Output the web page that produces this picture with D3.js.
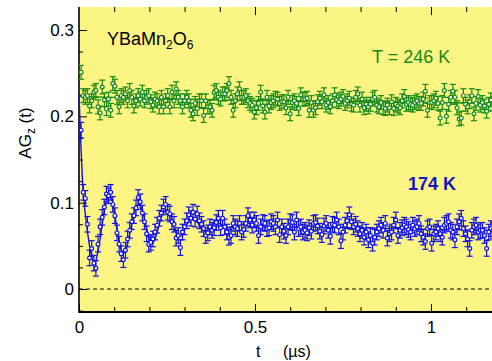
<!DOCTYPE html>
<html>
<head>
<meta charset="utf-8">
<script src="https://cdn.jsdelivr.net/npm/d3@7"></script>
<style>
  body { margin: 0; background: #fff; }
  text { font-family: "Liberation Sans", Arial, sans-serif; }
</style>
</head>
<body>
<svg id="chart" width="492" height="361"></svg>
<script>
// sampling step of the spectra (µs); point i sits at (i+1)*dt
const dt = 0.006;

// T = 246 K
const green246 = [
  0.251,0.224,0.222,0.224,0.212,0.218,0.228,0.230,0.211,0.204,
  0.234,0.219,0.209,0.220,0.207,0.238,0.235,0.222,0.211,0.224,
  0.222,0.226,0.218,0.230,0.222,0.212,0.218,0.224,0.220,0.228,
  0.218,0.222,0.224,0.217,0.213,0.220,0.218,0.211,0.222,0.211,
  0.218,0.224,0.211,0.228,0.218,0.232,0.222,0.218,0.211,0.218,
  0.222,0.218,0.207,0.203,0.215,0.209,0.218,0.218,0.201,0.218,
  0.211,0.211,0.207,0.228,0.230,0.222,0.220,0.226,0.226,0.230,
  0.238,0.222,0.207,0.218,0.226,0.232,0.222,0.222,0.224,0.218,
  0.215,0.213,0.205,0.210,0.215,0.228,0.212,0.205,0.222,0.212,
  0.216,0.218,0.221,0.220,0.215,0.217,0.217,0.210,0.222,0.203,
  0.216,0.218,0.215,0.209,0.225,0.220,0.220,0.221,0.207,0.216,
  0.207,0.210,0.217,0.221,0.217,0.225,0.213,0.216,0.211,0.218,
  0.225,0.219,0.217,0.220,0.223,0.215,0.218,0.221,0.214,0.213,
  0.222,0.226,0.213,0.220,0.210,0.214,0.211,0.214,0.220,0.222,
  0.213,0.211,0.216,0.210,0.209,0.213,0.210,0.217,0.209,0.214,
  0.212,0.210,0.218,0.223,0.214,0.216,0.214,0.213,0.216,0.218,
  0.215,0.215,0.220,0.229,0.207,0.216,0.216,0.218,0.221,0.215,
  0.198,0.216,0.230,0.200,0.214,0.222,0.229,0.222,0.210,0.197,
  0.198,0.224,0.214,0.211,0.217,0.224,0.203,0.215,0.223,0.213,
  0.216,0.212,0.206,0.214,0.219,0.215
];

// T = 174 K
const blue174 = [
  0.184,0.112,0.105,0.075,0.036,0.047,0.030,0.024,0.052,0.072,
  0.083,0.095,0.110,0.108,0.112,0.098,0.085,0.065,0.052,0.041,
  0.034,0.045,0.058,0.068,0.078,0.085,0.094,0.106,0.101,0.088,
  0.078,0.064,0.052,0.054,0.058,0.066,0.074,0.082,0.088,0.095,
  0.098,0.089,0.087,0.078,0.075,0.059,0.062,0.048,0.066,0.072,
  0.079,0.086,0.082,0.089,0.081,0.087,0.079,0.075,0.070,0.062,
  0.065,0.072,0.068,0.071,0.077,0.082,0.071,0.082,0.072,0.066,
  0.060,0.062,0.076,0.072,0.070,0.076,0.066,0.069,0.076,0.085,
  0.080,0.074,0.080,0.076,0.062,0.072,0.077,0.076,0.070,0.071,
  0.078,0.076,0.072,0.080,0.063,0.072,0.067,0.062,0.072,0.078,
  0.077,0.066,0.080,0.070,0.072,0.066,0.068,0.065,0.071,0.067,
  0.076,0.077,0.073,0.067,0.063,0.073,0.076,0.068,0.061,0.075,
  0.074,0.080,0.072,0.056,0.066,0.074,0.079,0.086,0.078,0.072,
  0.075,0.070,0.064,0.068,0.060,0.066,0.057,0.062,0.053,0.060,
  0.066,0.070,0.074,0.068,0.076,0.059,0.064,0.066,0.074,0.080,
  0.062,0.068,0.071,0.074,0.072,0.069,0.066,0.074,0.070,0.072,
  0.076,0.064,0.060,0.055,0.070,0.072,0.053,0.064,0.066,0.070,
  0.064,0.060,0.074,0.076,0.078,0.068,0.066,0.057,0.072,0.078,
  0.082,0.070,0.064,0.058,0.047,0.068,0.072,0.074,0.066,0.068,
  0.068,0.062,0.047,0.066,0.070,0.068
];

const errGreen = 0.008;
const errBlue = 0.009;

// fitted curves
const greenFitT = [0, 0.2, 0.4, 0.6, 0.8, 1.0, 1.2];
const greenFitV = [0.223, 0.221, 0.219, 0.218, 0.217, 0.216, 0.215];

const blueFitT = [0,0.005,0.01,0.015,0.02,0.03,0.04,0.045,0.05,
  0.06,0.07,0.08,0.09,0.10,0.11,0.12,0.13,0.14,0.15,0.16,0.17,0.18,0.19,0.20,
  0.21,0.22,0.23,0.24,0.25,0.26,0.27,0.28,0.29,0.30,0.31,0.32,0.33,0.34,0.35,
  0.36,0.37,0.38,0.39,0.40,0.42,0.44,0.46,0.48,0.50,0.60,0.80,1.00,1.20];
const blueFitV = [0.225,0.17,0.125,0.098,0.08,0.05,0.032,0.029,0.036,
  0.058,0.086,0.104,0.107,0.09,0.064,0.045,0.042,0.057,0.076,0.091,0.098,0.091,0.074,0.058,
  0.054,0.063,0.078,0.089,0.092,0.085,0.073,0.064,0.062,0.069,0.078,0.083,0.081,0.075,0.069,
  0.067,0.070,0.075,0.077,0.076,0.071,0.073,0.075,0.073,0.072,0.072,0.071,0.069,0.068];

const xTicks = [0, 0.5, 1];
const xMinor = [0.1, 0.2, 0.3, 0.4, 0.6, 0.7, 0.8, 0.9, 1.1];
const yTicks = [0, 0.1, 0.2, 0.3];
const yMinor = [-0.025, 0.025, 0.05, 0.075, 0.125, 0.15, 0.175, 0.225, 0.25, 0.275];

const green = "#178a17", blue = "#1010e6";

const svg = d3.select("#chart");
const pLeft = 79, pRight = 492, pTop = 7, pBottom = 312;

const x = d3.scaleLinear().domain([0, 1.2]).range([pLeft, pLeft + 1.2 * 352]);
const y = d3.scaleLinear().domain([-0.0266, 0.3255]).range([pBottom, pTop + 1]);

svg.append("rect")
  .attr("x", pLeft).attr("y", pTop)
  .attr("width", pRight - pLeft).attr("height", pBottom - pTop)
  .attr("fill", "#fcf583");

// zero line
svg.append("line")
  .attr("x1", pLeft).attr("x2", pRight)
  .attr("y1", y(0)).attr("y2", y(0))
  .attr("stroke", "#000").attr("stroke-width", 1)
  .attr("stroke-dasharray", "4,3");

// axes (ticks inside)
function styleAxis(g) {
  g.select(".domain").remove();
  g.selectAll(".tick line").attr("stroke", "#000");
  g.selectAll("text").attr("fill", "#000")
    .style("font-family", "'Liberation Sans', Arial, sans-serif");
}

svg.append("g").attr("transform", `translate(0,${pBottom})`)
  .call(d3.axisBottom(x).tickValues(xTicks).tickSize(-8).tickPadding(9)
    .tickFormat(d3.format("")))
  .call(styleAxis)
  .selectAll("text").attr("font-size", 17);
svg.append("g").attr("transform", `translate(0,${pBottom})`)
  .call(d3.axisBottom(x).tickValues(xMinor).tickSize(-5).tickFormat(""))
  .call(styleAxis);
svg.append("g").attr("transform", `translate(0,${pTop})`)
  .call(d3.axisTop(x).tickValues(xTicks.filter(d => d > 0)).tickSize(-8).tickFormat(""))
  .call(styleAxis);
svg.append("g").attr("transform", `translate(0,${pTop})`)
  .call(d3.axisTop(x).tickValues(xMinor).tickSize(-5).tickFormat(""))
  .call(styleAxis);

svg.append("g").attr("transform", `translate(${pLeft},0)`)
  .call(d3.axisLeft(y).tickValues(yTicks).tickSize(-8).tickPadding(5)
    .tickFormat(d3.format("")))
  .call(styleAxis)
  .selectAll("text").attr("font-size", 17);
svg.append("g").attr("transform", `translate(${pLeft},0)`)
  .call(d3.axisLeft(y).tickValues(yMinor).tickSize(-4).tickFormat(""))
  .call(styleAxis);

// frame lines
svg.append("line").attr("x1", pLeft).attr("x2", pRight)
  .attr("y1", pBottom).attr("y2", pBottom)
  .attr("stroke", "#000").attr("stroke-width", 2);
svg.append("line").attr("x1", pLeft).attr("x2", pLeft)
  .attr("y1", pTop).attr("y2", pBottom + 1)
  .attr("stroke", "#000").attr("stroke-width", 1.6);

// series
function drawSeries(values, err, fitT, fitV, color) {
  const pts = values.map((v, i) => ({ t: (i + 1) * dt, v: v }));
  const g = svg.append("g");

  g.append("path")
    .datum(fitT.map((t, i) => ({ t: t, v: fitV[i] })))
    .attr("fill", "none").attr("stroke", color).attr("stroke-width", 1.4)
    .attr("d", d3.line().x(d => x(d.t)).y(d => y(d.v)).curve(d3.curveMonotoneX));

  const bars = g.selectAll(".eb").data(pts).enter().append("g")
    .attr("stroke", color).attr("stroke-width", 1.2);
  bars.append("line")
    .attr("x1", d => x(d.t)).attr("x2", d => x(d.t))
    .attr("y1", d => y(d.v - err)).attr("y2", d => y(d.v + err));
  bars.append("line")
    .attr("x1", d => x(d.t) - 3).attr("x2", d => x(d.t) + 3)
    .attr("y1", d => y(d.v + err)).attr("y2", d => y(d.v + err));
  bars.append("line")
    .attr("x1", d => x(d.t) - 3).attr("x2", d => x(d.t) + 3)
    .attr("y1", d => y(d.v - err)).attr("y2", d => y(d.v - err));

  g.selectAll("circle").data(pts).enter().append("circle")
    .attr("cx", d => x(d.t)).attr("cy", d => y(d.v))
    .attr("r", 1.9)
    .attr("fill", "#fff").attr("stroke", color).attr("stroke-width", 1.2);
}

drawSeries(green246, errGreen, greenFitT, greenFitV, green);
drawSeries(blue174, errBlue, blueFitT, blueFitV, blue);

// annotations
const title = svg.append("text").attr("x", 107).attr("y", 45)
  .attr("font-size", 18).attr("fill", "#000");
title.append("tspan").text("YBaMn");
title.append("tspan").attr("font-size", 12).attr("dy", 4).text("2");
title.append("tspan").attr("dy", -4).text("O");
title.append("tspan").attr("font-size", 12).attr("dy", 4).text("6");

svg.append("text").attr("x", 372).attr("y", 63)
  .attr("font-size", 18).attr("fill", green).text("T = 246 K");

svg.append("text").attr("x", 408).attr("y", 190)
  .attr("font-size", 18).attr("font-weight", "bold").attr("fill", "#1414c4")
  .text("174 K");

// axis titles
const yl = svg.append("text")
  .attr("transform", "translate(31,133) rotate(-90)")
  .attr("text-anchor", "middle").attr("font-size", 17).attr("fill", "#000");
yl.append("tspan").text("AG");
yl.append("tspan").attr("font-size", 12).attr("dy", 4).text("z");
yl.append("tspan").attr("dy", -4).text(" (t)");

const xl = svg.append("text").attr("x", 256).attr("y", 357)
  .attr("font-size", 16).attr("fill", "#000");
xl.append("tspan").text("t");
xl.append("tspan").attr("x", 283).text("(µs)");
</script>
</body>
</html>
